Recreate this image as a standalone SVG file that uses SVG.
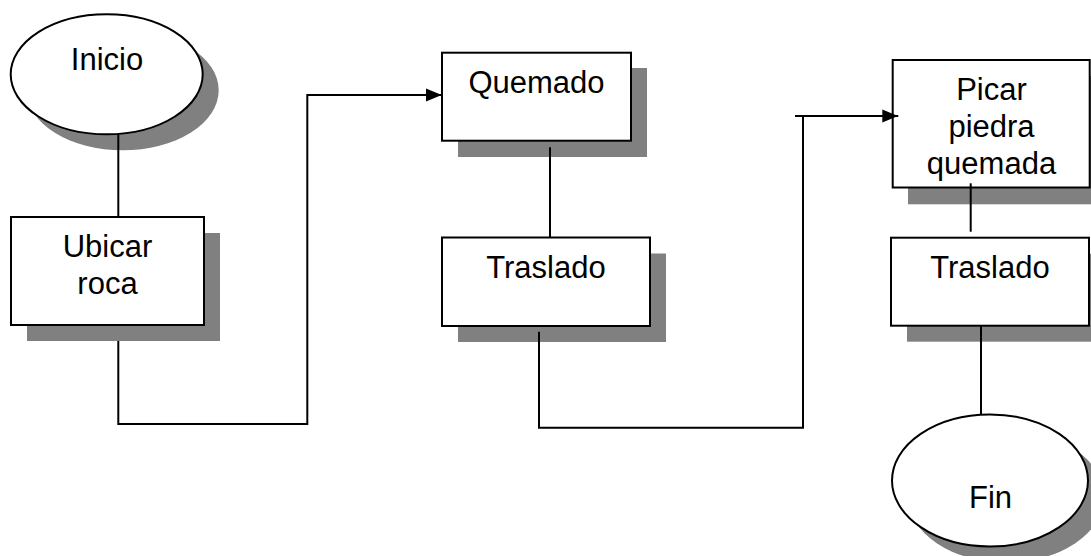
<svg xmlns="http://www.w3.org/2000/svg" width="1091" height="556" viewBox="0 0 1091 556">
<style>
  .shadow { fill: #808080; stroke: none; }
  .shape { fill: #ffffff; stroke: #000000; stroke-width: 2; }
  .label { font-family: "Liberation Sans", Arial, sans-serif; font-size: 31px; fill: #000000; text-anchor: middle; }
  .conn { fill: none; stroke: #000000; stroke-width: 2; }
</style>
<defs>
  <marker id="arrow" markerWidth="16" markerHeight="14" refX="16" refY="7" orient="auto" markerUnits="userSpaceOnUse">
    <path d="M0,0.5 L16,7 L0,13.5 Z" fill="#000000"/>
  </marker>
</defs>
<rect width="1091" height="556" fill="#ffffff"/>

<g id="inicio">
  <ellipse class="shadow" cx="122.7" cy="90.3" rx="96" ry="60"/>
  <ellipse class="shape" cx="106.7" cy="74.3" rx="96" ry="60"/>
  <text class="label" x="107" y="70">Inicio</text>
</g>

<g id="ubicar-roca">
  <rect class="shadow" x="27" y="233" width="193" height="108"/>
  <rect class="shape" x="11" y="217" width="193" height="108"/>
  <text class="label" x="107.5" y="257">Ubicar</text>
  <text class="label" x="107.5" y="294">roca</text>
</g>

<g id="quemado">
  <rect class="shadow" x="458" y="68" width="189" height="89"/>
  <rect class="shape" x="442" y="52.7" width="189" height="88"/>
  <text class="label" x="536.5" y="93.3">Quemado</text>
</g>

<g id="traslado-1">
  <rect class="shadow" x="458" y="253.5" width="208" height="88.5"/>
  <rect class="shape" x="442" y="237.5" width="208" height="88.5"/>
  <text class="label" x="546" y="278.3">Traslado</text>
</g>

<g id="picar-piedra">
  <rect class="shadow" x="908" y="76" width="200" height="128.3"/>
  <rect class="shape" x="892.7" y="60" width="197" height="127.5"/>
  <text class="label" x="991.5" y="100">Picar</text>
  <text class="label" x="991.5" y="137">piedra</text>
  <text class="label" x="991.5" y="174">quemada</text>
</g>

<g id="traslado-2">
  <rect class="shadow" x="907" y="253.7" width="200" height="88"/>
  <rect class="shape" x="891" y="237.7" width="198" height="88"/>
  <text class="label" x="990" y="278.3">Traslado</text>
</g>

<g id="fin">
  <ellipse class="shadow" cx="1006" cy="496.5" rx="98" ry="66"/>
  <ellipse class="shape" cx="990" cy="480.5" rx="98" ry="66"/>
  <text class="label" x="990.5" y="508.3">Fin</text>
</g>

<g id="connectors">
  <path class="conn" d="M118.3,134.3 V217"/>
  <path class="conn" d="M118.3,341 V424 H307.3 V95 H441.7" marker-end="url(#arrow)"/>
  <path class="conn" d="M550,147.3 V237.5"/>
  <path class="conn" d="M539,331.7 V427.7 H803 V116"/>
  <path class="conn" d="M795,116 H898.3" marker-end="url(#arrow)"/>
  <path class="conn" d="M970.7,183.3 V231.7"/>
  <path class="conn" d="M981,325.7 V414.5"/>
</g>
</svg>
